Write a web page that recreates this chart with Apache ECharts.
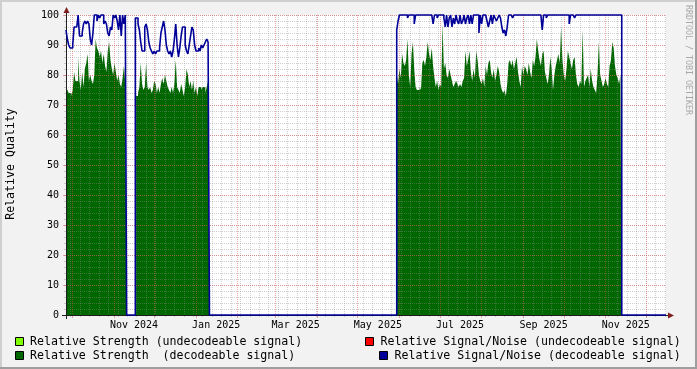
<!DOCTYPE html>
<html><head><meta charset="utf-8">
<script src="https://cdn.jsdelivr.net/npm/echarts@6/dist/echarts.min.js"></script>
<style>html,body{margin:0;padding:0;background:#f2f2f2}#c{width:697px;height:369px}</style>
</head><body><div id="c"></div>
<script>
// ---- axis range & ticks ----
const AXIS_MIN = '2024-09-26T13:07:00Z';
const AXIS_MAX = '2025-12-15T20:20:00Z';
const monthStarts = ['2024-10-01','2024-11-01','2024-12-01','2025-01-01','2025-02-01','2025-03-01','2025-04-01','2025-05-01','2025-06-01','2025-07-01','2025-08-01','2025-09-01','2025-10-01','2025-11-01','2025-12-01'];
const tickLabels = ['Nov 2024','Jan 2025','Mar 2025','May 2025','Jul 2025','Sep 2025','Nov 2025'];
const tickLabelDates = ['2024-11-16','2025-01-16','2025-03-16','2025-05-16','2025-07-16','2025-09-16','2025-11-16'];
const firstMonday = '2024-09-30';
const yTickLabels = [0,10,20,30,40,50,60,70,80,90,100];

// ---- series names / colours ----
const seriesNames = ['Relative Strength (undecodeable signal)','Relative Signal/Noise (undecodeable signal)','Relative Strength  (decodeable signal)','Relative Signal/Noise (decodeable signal)'];
const seriesColors = ['#80ff00','#ff0000','#006600','#000099'];

// ---- data: daily values per segment ----
const segmentStarts = ['2024-09-26T13:07:00Z','2024-11-17T00:00:00Z','2025-05-30T00:00:00Z'];
const strengthSeg1 = [76,75,74,74,73,75,81,78,78,86,78,75,81,76,82,84,87,78,80,78,77,80,92,89,88,86,88,84,87,83,81,88,91,85,82,80,84,81,78,80,77,76,79,83,77];
const snSeg1 = [95,92,90,89,89,90,96,96,96,100,93,93,94,97,98,97,98,97,92,90,94,100,100,98,100,99,100,100,97,98,97,94,93,96,95,100,99,100,98,95,100,93,100,97,100];
const strengthSeg2 = [73,73,74,76,84,77,75,76,84,76,75,76,74,75,78,77,74,76,74,77,79,77,80,78,76,75,74,76,74,77,85,76,75,74,77,75,73,76,82,80,76,78,75,78,74,76,73,76,76,75,76,76,74,76,78];
const snSeg2 = [99,99,97,95,91,88,88,96,97,95,91,89,88,87,88,87,88,88,89,94,96,98,95,90,88,87,88,86,88,92,97,90,86,89,93,96,96,90,88,87,90,93,96,95,90,88,88,89,88,90,89,90,91,92,91];
const strengthSeg3 = [80,77,82,79,87,84,83,85,92,80, 76,87,91,82,76,75,75,76,75,84, 85,83,86,91,87,85,89,83,79,76, 78,75,77,76,97,82,84,80,79,82, 80,78,76,77,78,77,76,77,76,78, 79,88,83,85,88,81,78,82,79,88, 85,80,78,77,79,76,83,80,84,85, 81,79,82,78,80,83,81,77,75,74, 75,73,77,84,85,83,85,82,84,86, 81,78,76,83,80,83,82,80,84,81, 79,85,83,86,92,88,85,83,87,88, 81,79,77,80,86,82,75,80,83,85, 87,84,96,85,80,78,82,88,86,84, 82,85,86,80,77,76,78,77,95,76, 78,79,80,76,82,78,76,75,74,80, 91,80,78,76,77,79,77,76,83,85, 91,89,83,80,79,77,80];
const snSeg3 = [95,98,100,100,100,100,100,100,99,100, 100,100,100,97,100,100,100,100,100,100, 100,100,100,100,100,100,100,97,100,100, 99,100,100,100,100,99,96,100,96,99, 100,96,99,97,100,98,97,100,97,98, 100,97,99,100,97,100,97,100,100,100, 100,94,100,97,100,100,100,98,96,98, 100,97,100,99,98,99,100,99,96,94, 95,93,96,100,100,100,99,100,100,100, 100,100,100,100,100,100,100,100,100,100, 100,100,100,100,100,100,100,100,95,100, 100,99,100,100,100,100,100,100,100,100, 100,100,100,100,100,100,100,100,97,100, 100,100,99,100,100,100,100,100,100,100, 100,100,100,100,100,100,100,100,100,100, 100,100,100,100,100,100,100,100,100,100, 100,100,100,100,100,100,100];

const DAY = 86400000;
function buildSteps(segs) {
  const out = [];
  segs.forEach((vals, k) => {
    const t0 = Date.parse(segmentStarts[k]);
    vals.forEach((v, i) => out.push([t0 + i * DAY, v]));
    out.push([t0 + vals.length * DAY, 0]);
  });
  out.push([Date.parse(AXIS_MAX), 0]);
  return out;
}
const strengthData = buildSteps([strengthSeg1, strengthSeg2, strengthSeg3]);
const snData = buildSteps([snSeg1, snSeg2, snSeg3]);

const tMin = Date.parse(AXIS_MIN), tMax = Date.parse(AXIS_MAX);
const monthTs = monthStarts.map(d => Date.parse(d + 'T00:00:00Z'));
const labelTs = tickLabelDates.map(d => Date.parse(d + 'T00:00:00Z'));
const weekTs = [];
for (let t = Date.parse(firstMonday + 'T00:00:00Z'); t <= tMax; t += 7 * DAY) weekTs.push(t);

const FONT = 'DejaVu Sans Mono';
const MAJOR = 'rgba(222,79,79,0.5)';
const MINOR = 'rgba(143,143,143,0.42)';

const chart = echarts.init(document.getElementById('c'), null, {renderer: 'canvas'});

const legendRows = [
  {box: [15, 337], text: [30, 341.5], i: 0},
  {box: [365, 337], text: [380.5, 341.5], i: 1},
  {box: [15, 351], text: [30, 355.5], i: 2},
  {box: [379, 351], text: [394.5, 355.5], i: 3}
];
const graphics = [
  {type: 'rect', shape: {x: 0, y: 0, width: 697, height: 2}, style: {fill: '#cfcfcf'}, z: 1},
  {type: 'rect', shape: {x: 0, y: 0, width: 2, height: 369}, style: {fill: '#cfcfcf'}, z: 1},
  {type: 'rect', shape: {x: 0, y: 367, width: 697, height: 2}, style: {fill: '#9e9e9e'}, z: 1},
  {type: 'rect', shape: {x: 695, y: 0, width: 2, height: 369}, style: {fill: '#9e9e9e'}, z: 1},
  {type: 'line', shape: {x1: 62, y1: 315.5, x2: 669, y2: 315.5}, style: {stroke: '#1f1f1f', lineWidth: 1}, z: 6},
  {type: 'line', shape: {x1: 66.5, y1: 319, x2: 66.5, y2: 12}, style: {stroke: '#1f1f1f', lineWidth: 1}, z: 6},
  {type: 'polygon', shape: {points: [[668, 312.5], [668, 318.5], [674, 315.5]]}, style: {fill: '#801f1f'}, z: 7},
  {type: 'polygon', shape: {points: [[63.5, 13], [69.5, 13], [66.5, 7]]}, style: {fill: '#801f1f'}, z: 7},
  {type: 'text', x: 11, y: 164, rotation: Math.PI / 2, style: {text: 'Relative Quality', font: '11.6px "' + FONT + '"', fill: '#000', align: 'center', verticalAlign: 'middle'}, z: 7},
  {type: 'text', x: 688, y: 60, rotation: -Math.PI / 2, style: {text: 'RRDTOOL / TOBI OETIKER', font: '8.3px "' + FONT + '"', fill: '#a8a8a8', align: 'center', verticalAlign: 'middle'}, z: 7}
];
legendRows.forEach(r => {
  graphics.push({type: 'rect', shape: {x: r.box[0] + 0.5, y: r.box[1] + 0.5, width: 8, height: 8}, style: {fill: seriesColors[r.i], stroke: '#000', lineWidth: 1}, z: 7});
  graphics.push({type: 'text', x: r.text[0], y: r.text[1], style: {text: seriesNames[r.i], font: '11.6px "' + FONT + '"', fill: '#000', align: 'left', verticalAlign: 'middle'}, z: 7});
});

chart.setOption({
  animation: false,
  backgroundColor: '#f2f2f2',
  grid: {left: 66, top: 15, width: 600, height: 300, show: true, backgroundColor: '#ffffff', borderWidth: 0},
  xAxis: [
    {type: 'value', min: tMin, max: tMax, position: 'bottom', z: 5,
     axisLine: {show: false},
     axisTick: {show: true, length: 3, customValues: monthTs, lineStyle: {color: MAJOR}},
     axisLabel: {show: true, customValues: labelTs, margin: 5, fontFamily: FONT, fontSize: 10, color: '#000',
       formatter: v => { const k = labelTs.findIndex(t => Math.abs(t - v) < DAY); return k >= 0 ? tickLabels[k] : ''; }},
     splitLine: {show: true, lineStyle: {color: MAJOR, type: [1, 1], width: 1}}},
    {type: 'value', min: tMin, max: tMax, position: 'bottom', z: 4,
     axisLine: {show: false},
     axisTick: {show: true, length: 2, customValues: weekTs, lineStyle: {color: MINOR}},
     axisLabel: {show: false},
     splitLine: {show: true, lineStyle: {color: MINOR, type: [1, 1], width: 1}}}
  ],
  yAxis: [
    {type: 'value', min: 0, max: 100, interval: 10, position: 'left', z: 5,
     axisLine: {show: false},
     axisTick: {show: true, length: 3, lineStyle: {color: MAJOR}},
     axisLabel: {show: true, margin: 7, fontFamily: FONT, fontSize: 10, color: '#000',
       formatter: v => yTickLabels.includes(v) ? String(v) : ''},
     splitLine: {show: true, lineStyle: {color: MAJOR, type: [1, 1], width: 1}}},
    {type: 'value', min: 0, max: 100, interval: 2, position: 'left', z: 4,
     axisLine: {show: false},
     axisTick: {show: true, length: 2, lineStyle: {color: MINOR}},
     axisLabel: {show: false},
     splitLine: {show: true, lineStyle: {color: MINOR, type: [1, 1], width: 1}}}
  ],
  series: [
    {name: seriesNames[2], type: 'line', step: 'end', data: strengthData, showSymbol: false, z: 2,
     lineStyle: {width: 0, color: seriesColors[2]}, areaStyle: {color: seriesColors[2], opacity: 1}},
    {name: seriesNames[3], type: 'line', step: 'end', data: snData, showSymbol: false, z: 10, clip: false,
     lineStyle: {width: 1.6, color: seriesColors[3]}},
    {name: seriesNames[0], type: 'line', data: [], z: 3},
    {name: seriesNames[1], type: 'line', data: [], z: 3}
  ],
  graphic: graphics
});
</script></body></html>
